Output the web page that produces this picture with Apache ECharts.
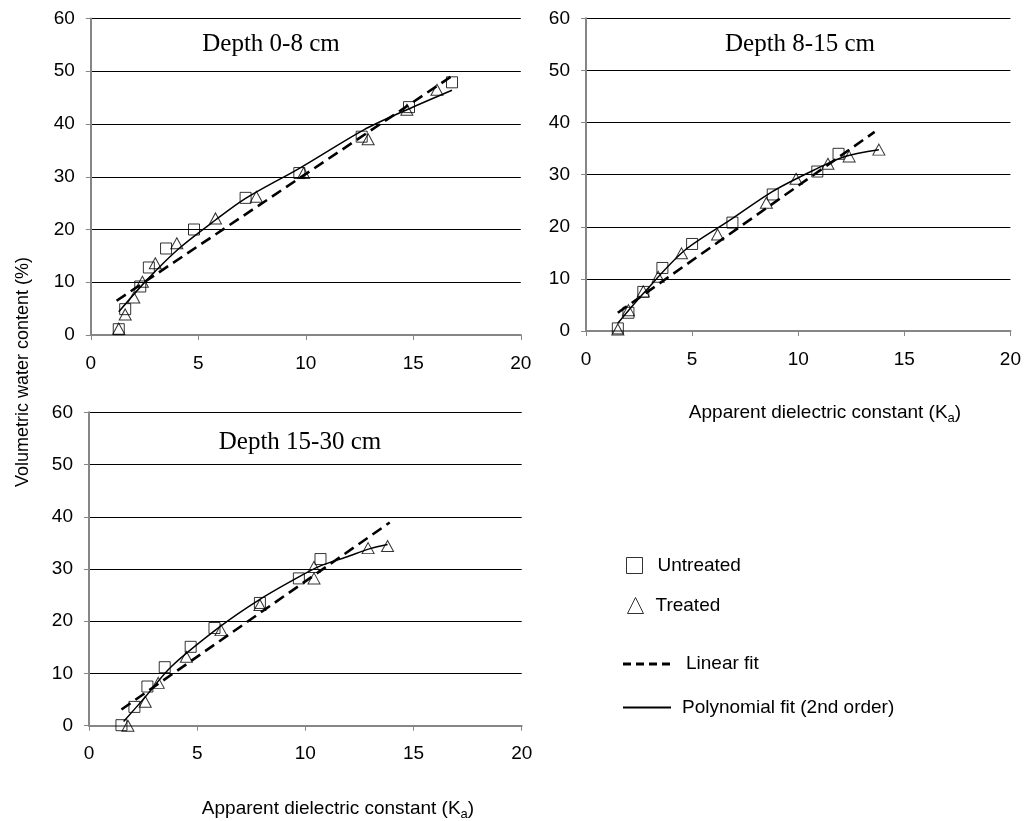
<!DOCTYPE html>
<html>
<head>
<meta charset="utf-8">
<script src="https://cdn.jsdelivr.net/npm/echarts@6/dist/echarts.min.js"></script>
<style>
html,body{margin:0;padding:0;background:#fff;}
#chart{width:1024px;height:821px;}
</style>
</head>
<body>
<div id="chart"></div>
<script>
// ---- Data ----
const panelTitles = ['Depth 0-8 cm', 'Depth 8-15 cm', 'Depth 15-30 cm'];
const seriesNames = ['Untreated', 'Treated', 'Linear fit', 'Polynomial fit (2nd order)'];
const yAxisTitle = 'Volumetric water content (%)';
const xAxisTitle = 'Apparent dielectric constant (K{sub|a})';

// Depth 0-8 cm
const untreated1 = [[1.3,1.1],[1.6,4.9],[2.3,9.2],[2.7,12.8],[3.5,16.4],[4.8,20.0],[7.2,26.0],[9.7,30.7],[12.6,37.6],[14.8,43.2],[16.8,47.9]];
const treated1 = [[1.3,1.2],[1.6,3.9],[2.0,7.1],[2.4,10.1],[3.0,13.6],[4.0,17.4],[5.8,22.1],[7.7,26.2],[9.9,30.7],[12.9,37.1],[14.7,42.7],[16.1,46.5]];
const linear1 = [[1.2,6.5],[16.8,49.1]];
const poly1 = [[1.3,4.4],[2.6,10.4],[4.1,16.4],[5.8,21.8],[7.2,25.9],[9.7,31.6],[12.7,38.9],[14.7,42.7],[16.8,46.4]];

// Depth 8-15 cm
const untreated2 = [[1.5,0.5],[2.0,3.5],[2.7,7.5],[3.6,12.1],[5.0,16.7],[6.9,20.8],[8.8,26.2],[10.9,30.6],[11.9,34.0]];
const treated2 = [[1.5,0.3],[2.0,4.0],[2.7,7.6],[3.4,10.4],[4.5,14.9],[6.2,18.5],[8.5,24.6],[9.9,29.2],[11.4,32.1],[12.4,33.5],[13.8,34.8]];
const linear2 = [[1.5,3.5],[13.6,38.2]];
const poly2 = [[1.5,1.5],[2.7,7.2],[4.6,15.3],[6.8,21.3],[8.8,26.8],[10.8,31.0],[12.2,33.5],[13.8,34.8]];

// Depth 15-30 cm
const untreated3 = [[1.5,0.1],[2.1,3.6],[2.7,7.5],[3.5,11.2],[4.7,15.1],[5.8,18.7],[7.9,23.5],[9.7,28.2],[10.7,31.9]];
const treated3 = [[1.8,0.0],[2.6,4.6],[3.2,8.2],[4.5,13.2],[6.1,18.3],[7.9,23.1],[10.4,28.2],[10.4,30.4],[12.9,34.0],[13.8,34.4]];
const linear3 = [[1.5,3.1],[13.9,38.9]];
const poly3 = [[1.6,0.8],[2.6,5.5],[3.8,11.3],[6.1,19.1],[7.9,24.2],[9.7,28.5],[10.7,30.6],[11.9,32.3],[13.0,33.9],[13.8,34.7]];

const xMin = 0, xMax = 20, xStep = 5;
const yMin = 0, yMax = 60, yStep = 10;

// ---- Chart ----
const SANS = 'Liberation Sans, Arial, sans-serif';
const SERIF = 'Liberation Serif, Times New Roman, serif';
const axisGray = '#868686';

const panels = [
  {u: untreated1, t: treated1, l: linear1, p: poly1},
  {u: untreated2, t: treated2, l: linear2, p: poly2},
  {u: untreated3, t: treated3, l: linear3, p: poly3}
];

const grids = [
  {left: 90.8, top: 18.5, width: 430, height: 316.5},
  {left: 586, top: 18.3, width: 426, height: 312.7},
  {left: 89, top: 412.3, width: 432.7, height: 313.4}
];

function xAxisFor(i) {
  return {
    type: 'value', gridIndex: i, min: xMin, max: xMax, interval: xStep,
    axisLine: {show: true, onZero: false, lineStyle: {color: axisGray, width: 2}},
    axisTick: {show: true, length: 5, lineStyle: {color: axisGray, width: 1}},
    axisLabel: {color: '#000', fontFamily: SANS, fontSize: 19, margin: 19},
    splitLine: {show: false}
  };
}
function yAxisFor(i) {
  return {
    type: 'value', gridIndex: i, min: yMin, max: yMax, interval: yStep,
    axisLine: {show: true, lineStyle: {color: axisGray, width: 2}},
    axisTick: {show: true, length: 5, lineStyle: {color: axisGray, width: 1}},
    axisLabel: {color: '#000', fontFamily: SANS, fontSize: 19, margin: 16},
    splitLine: {show: true, lineStyle: {color: '#000', width: 1}}
  };
}

const markerStyle = {color: 'rgba(255,255,255,0)', borderColor: '#000', borderWidth: 1};
const series = [];
panels.forEach((pn, i) => {
  series.push({
    name: seriesNames[0], type: 'scatter', xAxisIndex: i, yAxisIndex: i,
    symbol: 'rect', symbolSize: 11, itemStyle: markerStyle, data: pn.u, z: 3
  });
  series.push({
    name: seriesNames[1], type: 'scatter', xAxisIndex: i, yAxisIndex: i,
    symbol: 'triangle', symbolSize: [12, 11], itemStyle: markerStyle, data: pn.t, z: 3
  });
  series.push({
    name: seriesNames[2], type: 'line', xAxisIndex: i, yAxisIndex: i,
    showSymbol: false, symbol: 'none',
    lineStyle: {color: '#000', width: 2.6, type: [11, 6]},
    itemStyle: {color: '#000'}, data: pn.l, z: 4
  });
  series.push({
    name: seriesNames[3], type: 'line', xAxisIndex: i, yAxisIndex: i,
    showSymbol: false, symbol: 'none', smooth: 0.3,
    lineStyle: {color: '#000', width: 1.5, type: 'solid'},
    itemStyle: {color: '#000'}, data: pn.p, z: 4
  });
});

const legendText = {color: '#000', fontFamily: SANS, fontSize: 19};
const dashIcon = 'path://M0,0h8v3h-8z M13,0h8v3h-8z M26,0h8v3h-8z M39,0h8v3h-8z';
const solidIcon = 'path://M0,0h48v2h-48z';
const legends = [
  {left: 626, top: 556, itemWidth: 16, itemHeight: 16, padding: 0, selectedMode: false,
   textStyle: Object.assign({padding: [0, 0, 0, 10]}, legendText),
   data: [{name: seriesNames[0], icon: 'rect', itemStyle: markerStyle}]},
  {left: 627, top: 596, itemWidth: 16, itemHeight: 16, padding: 0, selectedMode: false,
   textStyle: Object.assign({padding: [0, 0, 0, 7]}, legendText),
   data: [{name: seriesNames[1], icon: 'triangle', itemStyle: markerStyle}]},
  {left: 623, top: 654.5, itemWidth: 47, itemHeight: 3, padding: 0, selectedMode: false,
   textStyle: Object.assign({padding: [0, 0, 0, 11]}, legendText),
   data: [{name: seriesNames[2], icon: dashIcon, itemStyle: {color: '#000', borderWidth: 0}}]},
  {left: 623, top: 698, itemWidth: 48, itemHeight: 2, padding: 0, selectedMode: false,
   textStyle: Object.assign({padding: [0, 0, 0, 6]}, legendText),
   data: [{name: seriesNames[3], icon: solidIcon, itemStyle: {color: '#000', borderWidth: 0}}]}
];

const titlePos = [[271, 44], [800, 44], [300, 442]];
const graphics = titlePos.map((p, i) => ({
  type: 'text', x: p[0], y: p[1],
  style: {text: panelTitles[i], fill: '#000', font: '25px ' + SERIF, textAlign: 'center', textVerticalAlign: 'middle'}
}));
graphics.push({
  type: 'text', x: 23, y: 372, rotation: Math.PI / 2,
  style: {text: yAxisTitle, fill: '#000', font: '18px ' + SANS, textAlign: 'center', textVerticalAlign: 'middle'}
});
[[825, 413], [338, 809]].forEach(p => {
  graphics.push({
    type: 'text', x: p[0], y: p[1],
    style: {
      text: xAxisTitle, fill: '#000', font: '19px ' + SANS, textAlign: 'center', textVerticalAlign: 'middle',
      rich: {sub: {fontSize: 13, fontFamily: SANS, fill: '#000', padding: [10, 0, 0, 0]}}
    }
  });
});

const chart = echarts.init(document.getElementById('chart'), null, {renderer: 'canvas'});
chart.setOption({
  backgroundColor: '#fff',
  animation: false,
  grid: grids,
  xAxis: [0, 1, 2].map(xAxisFor),
  yAxis: [0, 1, 2].map(yAxisFor),
  legend: legends,
  series: series,
  graphic: graphics
});
</script>
</body>
</html>
